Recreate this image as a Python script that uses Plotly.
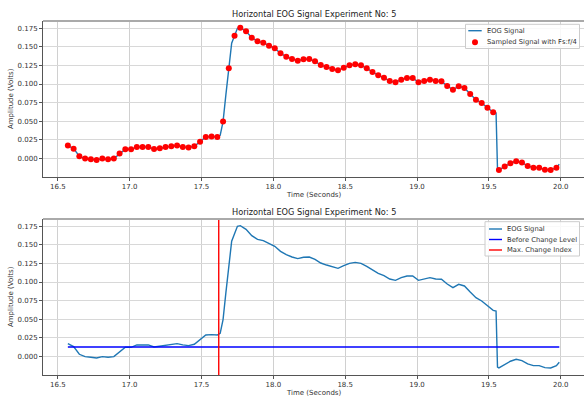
import numpy as np
import plotly.graph_objects as go

# ---------------- data ----------------
title_text = "Horizontal EOG Signal Experiment No: 5"
x_label = "Time (Seconds)"
y_label = "Amplitude (Volts)"

sample_start = 16.57
sample_step = 0.04
sample_v = [
    0.0171, 0.0130, 0.0027, -0.0004, -0.0013, -0.0022, -0.0004, -0.0013, -0.0004, 0.0063,
    0.0121, 0.0121, 0.0153, 0.0153, 0.0153, 0.0126, 0.0135, 0.0153, 0.0162, 0.0171,
    0.0153, 0.0144, 0.0162, 0.0224, 0.0287, 0.0292, 0.0287, 0.0494, 0.1212, 0.1651,
    0.1759, 0.1710, 0.1624, 0.1575, 0.1557, 0.1517, 0.1481, 0.1413, 0.1369, 0.1337,
    0.1315, 0.1333, 0.1337, 0.1306, 0.1256, 0.1229, 0.1203, 0.1185, 0.1220, 0.1252,
    0.1265, 0.1252, 0.1212, 0.1162, 0.1117, 0.1086, 0.1041, 0.1023, 0.1059, 0.1081,
    0.1081, 0.1023, 0.1041, 0.1059, 0.1041, 0.1037, 0.0974, 0.0924, 0.0969, 0.0947,
    0.0866, 0.0790, 0.0745, 0.0682, 0.0619, -0.0157, -0.0112, -0.0067, -0.0040, -0.0058,
    -0.0103, -0.0126, -0.0126, -0.0153, -0.0157, -0.0126,
]
sample_t = np.round(sample_start + sample_step * np.arange(len(sample_v)), 3)

# extra readings of the continuous EOG trace between samples
extra_t = [17.63, 17.67, 17.71, 17.75, 19.55, 19.56, 19.99]
extra_v = [0.0310, 0.0860, 0.1550, 0.1750, 0.0610, -0.0145, -0.0081]

before_level = 0.0126
level_t = [16.57, 19.99]
max_change_t = 17.62

x_ticks = [16.5, 17.0, 17.5, 18.0, 18.5, 19.0, 19.5, 20.0]
x_ticktext = ["16.5", "17.0", "17.5", "18.0", "18.5", "19.0", "19.5", "20.0"]
y_ticks = [0.0, 0.025, 0.05, 0.075, 0.1, 0.125, 0.15, 0.175]
y_ticktext = ["0.000", "0.025", "0.050", "0.075", "0.100", "0.125", "0.150", "0.175"]

x_range = [16.397, 20.162]
y_range = [-0.0252, 0.1849]

legend_top_names = ["EOG Signal", "Sampled Signal with Fs:f/4"]
legend_bot_names = ["EOG Signal", "Before Change Level", "Max. Change Index"]

# combined continuous signal
eog_pairs = sorted(list(zip(sample_t.tolist(), sample_v)) + list(zip(extra_t, extra_v)))
eog_t = [p[0] for p in eog_pairs]
eog_v = [p[1] for p in eog_pairs]

# ---------------- figure ----------------
W, H = 584, 399
FONT = "DejaVu Sans"
C0 = "#1f77b4"
RED = "#ff0000"
BLUE = "#0000ff"

fig = go.Figure()

# top plot
fig.add_trace(go.Scatter(x=eog_t, y=eog_v, mode="lines", name=legend_top_names[0],
                         line=dict(color=C0, width=1.4), xaxis="x", yaxis="y"))
fig.add_trace(go.Scatter(x=sample_t, y=sample_v, mode="markers", name=legend_top_names[1],
                         marker=dict(color=RED, size=6), xaxis="x", yaxis="y"))

# bottom plot
fig.add_trace(go.Scatter(x=eog_t, y=eog_v, mode="lines", name=legend_bot_names[0],
                         line=dict(color=C0, width=1.4), xaxis="x2", yaxis="y2"))
fig.add_trace(go.Scatter(x=level_t, y=[before_level, before_level], mode="lines",
                         name=legend_bot_names[1], line=dict(color=BLUE, width=1.4),
                         xaxis="x2", yaxis="y2"))
fig.add_trace(go.Scatter(x=[max_change_t, max_change_t], y=y_range, mode="lines",
                         name=legend_bot_names[2], line=dict(color=RED, width=1.4),
                         xaxis="x2", yaxis="y2"))

left = 43 / W
top_dom = [1 - 177 / H, 1 - 21 / H]
bot_dom = [1 - 375 / H, 1 - 219 / H]

def xax(anchor):
    return dict(domain=[left, 1.0], range=x_range, tickvals=x_ticks, ticktext=x_ticktext,
                showgrid=True, gridcolor="#d0d0d0", gridwidth=1, zeroline=False,
                showline=True, linecolor="#555555", linewidth=1, ticks="outside", ticklen=3,
                tickcolor="#555555", tickfont=dict(family=FONT, size=7, color="#333333"),
                anchor=anchor, fixedrange=True)

def yax(dom, anchor):
    return dict(domain=dom, range=y_range, tickvals=y_ticks, ticktext=y_ticktext,
                showgrid=True, gridcolor="#d8d8d8", gridwidth=1, zeroline=False,
                showline=True, linecolor="#555555", linewidth=1, ticks="outside", ticklen=3,
                tickcolor="#555555", tickfont=dict(family=FONT, size=7, color="#333333"),
                anchor=anchor, fixedrange=True)

fig.update_layout(
    width=W, height=H, margin=dict(l=0, r=0, t=0, b=0),
    paper_bgcolor="white", plot_bgcolor="white", showlegend=False,
    font=dict(family=FONT, size=7, color="#333333"),
    xaxis=xax("y"), yaxis=yax(top_dom, "x"),
    xaxis2=xax("y2"), yaxis2=yax(bot_dom, "x2"),
)

def px(x):
    return x / W

def py(y):
    return 1 - y / H

center_x = (43 + 584) / 2 / W
ann = []
shapes = []
for ty, xy, yy in [(14, 195, 99), (212, 393, 297)]:
    ann.append(dict(text=title_text, x=center_x, y=py(ty), xref="paper", yref="paper",
                    showarrow=False, xanchor="center", yanchor="middle",
                    font=dict(family=FONT, size=8.2, color="#222222")))
    ann.append(dict(text=x_label, x=center_x, y=py(xy), xref="paper", yref="paper",
                    showarrow=False, xanchor="center", yanchor="middle",
                    font=dict(family=FONT, size=7, color="#333333")))
    ann.append(dict(text=y_label, x=px(11), y=py(yy), xref="paper", yref="paper",
                    showarrow=False, xanchor="center", yanchor="middle", textangle=-90,
                    font=dict(family=FONT, size=7, color="#333333")))

# top border (spine) of each axes
for xr, yr in [("x domain", "y domain"), ("x2 domain", "y2 domain")]:
    shapes.append(dict(type="line", xref=xr, yref=yr, x0=0, x1=1, y0=1, y1=1,
                       line=dict(color="#aaaaaa", width=2)))

# ---- manual legends (matplotlib style, compact) ----
def legend_box(x0, y0, x1, y1):
    shapes.append(dict(type="rect", xref="paper", yref="paper", x0=px(x0), x1=px(x1),
                       y0=py(y1), y1=py(y0), fillcolor="rgba(255,255,255,0.85)",
                       line=dict(color="#cccccc", width=1), layer="above"))

def legend_text(text, x, y):
    ann.append(dict(text=text, x=px(x), y=py(y), xref="paper", yref="paper",
                    showarrow=False, xanchor="left", yanchor="middle", borderpad=0,
                    font=dict(family=FONT, size=6.75, color="#333333")))

def legend_line(x0, x1, y, color):
    shapes.append(dict(type="line", xref="paper", yref="paper", x0=px(x0), x1=px(x1),
                       y0=py(y), y1=py(y), line=dict(color=color, width=1.4), layer="above"))

def legend_dot(xc, yc, color, r=3):
    shapes.append(dict(type="circle", xref="paper", yref="paper", x0=px(xc - r), x1=px(xc + r),
                       y0=py(yc + r), y1=py(yc - r), fillcolor=color, line=dict(color=color, width=0),
                       layer="above"))

# top legend
legend_box(465.5, 24.3, 579.5, 48.5)
legend_line(468.3, 481.7, 30.7, C0)
legend_text(legend_top_names[0], 486.0, 30.7)
legend_dot(475.0, 42.3, RED)
legend_text(legend_top_names[1], 486.0, 42.3)

# bottom legend
legend_box(485.0, 221.7, 579.5, 256.0)
for name, yy, col in zip(legend_bot_names, [229.0, 239.5, 250.0], [C0, BLUE, RED]):
    legend_line(489.0, 502.0, yy, col)
    legend_text(name, 506.0, yy)

fig.update_layout(annotations=ann, shapes=shapes)

fig.write_html("out.html")
